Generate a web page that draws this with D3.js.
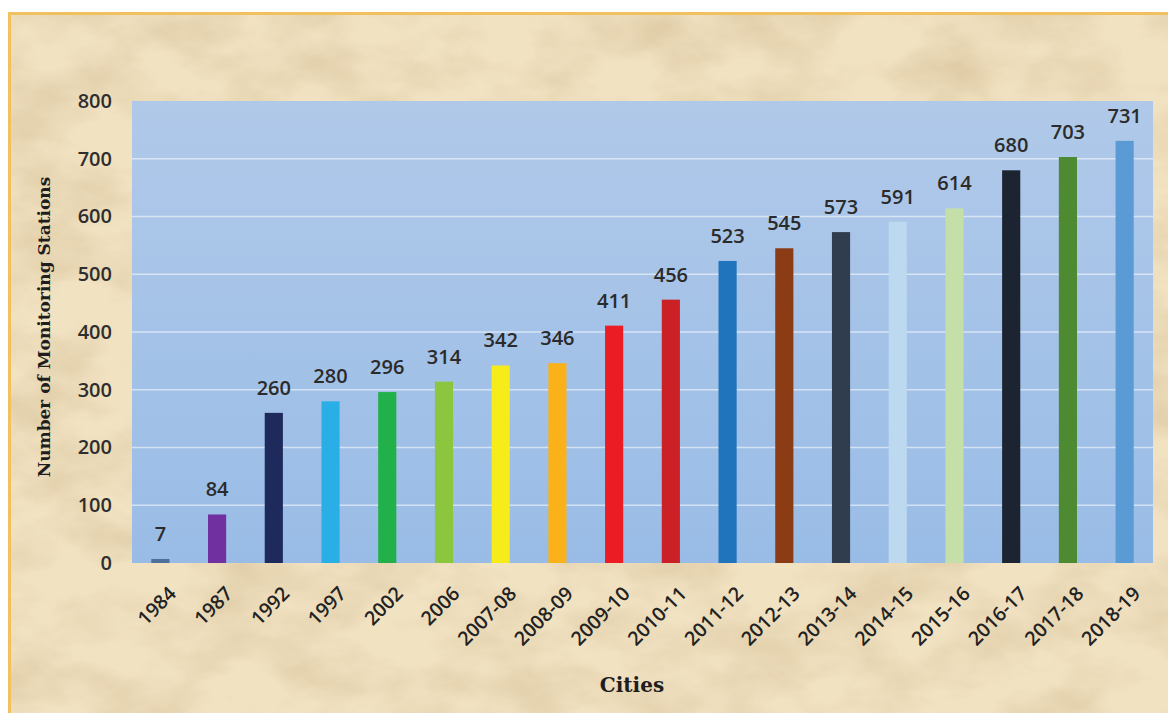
<!DOCTYPE html>
<html>
<head>
<meta charset="utf-8">
<script src="https://cdn.jsdelivr.net/npm/d3@7"></script>
<style>
  html, body { margin: 0; padding: 0; background: #fff; }
  svg { display: block; }
</style>
</head>
<body>
<svg id="chart" width="1168" height="713"></svg>
<script>
// data
const years = ['1984', '1987', '1992', '1997', '2002', '2006', '2007-08', '2008-09', '2009-10',
  '2010-11', '2011-12', '2012-13', '2013-14', '2014-15', '2015-16', '2016-17', '2017-18', '2018-19'];
const stations = [7, 84, 260, 280, 296, 314, 342, 346, 411, 456, 523, 545, 573, 591, 614, 680, 703, 731];
const barColors = ['#4f6f9c', '#7030a0', '#1f2a5c', '#29afe6', '#22b04b', '#8cc63f', '#f5ec1a', '#fbb21a',
  '#ec1c24', '#cc2027', '#1f74bb', '#8b3c15', '#303d4f', '#bcd9f0', '#c4e0a8', '#1c2431', '#4d8a32', '#5b9bd5'];
const yTicks = [0, 100, 200, 300, 400, 500, 600, 700, 800];

const W = 1168, H = 713;
const plot = { left: 132, top: 101, right: 1153, bottom: 563 };

const svg = d3.select('#chart');
const defs = svg.append('defs');

// parchment texture
const paper = defs.append('filter').attr('id', 'paper')
  .attr('x', 0).attr('y', 0).attr('width', '100%').attr('height', '100%');
paper.append('feTurbulence')
  .attr('type', 'fractalNoise')
  .attr('baseFrequency', '0.011 0.018')
  .attr('numOctaves', 5)
  .attr('seed', 7);
paper.append('feColorMatrix')
  .attr('type', 'matrix')
  .attr('values', '0 0 0 0 0.74  0 0 0 0 0.60  0 0 0 0 0.38  1.9 0 0 0 -0.72');

const grad = defs.append('linearGradient').attr('id', 'plotbg')
  .attr('x1', 0).attr('y1', 0).attr('x2', 0).attr('y2', 1);
grad.append('stop').attr('offset', '0%').attr('stop-color', '#b0c9e9');
grad.append('stop').attr('offset', '100%').attr('stop-color', '#99bce6');

// background
svg.append('rect').attr('width', W).attr('height', H).attr('fill', '#fff');
svg.append('rect').attr('x', 8).attr('y', 12).attr('width', W - 8).attr('height', H - 12)
  .attr('fill', '#f1e2c2');
svg.append('rect').attr('x', 8).attr('y', 12).attr('width', W - 8).attr('height', H - 12)
  .attr('filter', 'url(#paper)');
svg.append('path')
  .attr('d', `M9.5,${H} V13.5 H${W}`)
  .attr('fill', 'none').attr('stroke', '#f1c15f').attr('stroke-width', 3);

// scales
const x = d3.scaleBand()
  .domain(years)
  .range([plot.left, plot.right])
  .paddingInner(0.68)
  .paddingOuter(0.34);

const y = d3.scaleLinear()
  .domain([0, 800])
  .range([plot.bottom, plot.top]);

// plot area
svg.append('rect')
  .attr('x', plot.left).attr('y', plot.top)
  .attr('width', plot.right - plot.left).attr('height', plot.bottom - plot.top)
  .attr('fill', 'url(#plotbg)');

// gridlines
svg.append('g')
  .selectAll('line')
  .data(yTicks.filter(d => d > 0 && d < 800))
  .join('line')
  .attr('x1', plot.left).attr('x2', plot.right)
  .attr('y1', d => y(d)).attr('y2', d => y(d))
  .attr('stroke', '#ffffff').attr('stroke-opacity', 0.55).attr('stroke-width', 1.5);

// y axis labels
const yAxis = svg.append('g')
  .attr('transform', `translate(${plot.left},0)`)
  .call(d3.axisLeft(y).tickValues(yTicks).tickSize(0).tickPadding(20));
yAxis.select('.domain').remove();
yAxis.selectAll('text')
  .attr('font-family', '"Open Sans", sans-serif')
  .attr('font-size', 20)
  .attr('font-weight', 600)
  .attr('fill', '#2e2e2e');

// bars
svg.append('g')
  .selectAll('rect')
  .data(years)
  .join('rect')
  .attr('x', d => x(d))
  .attr('width', x.bandwidth())
  .attr('y', (d, i) => y(stations[i]))
  .attr('height', (d, i) => y(0) - y(stations[i]))
  .attr('fill', (d, i) => barColors[i]);

// value labels
svg.append('g')
  .selectAll('text')
  .data(years)
  .join('text')
  .attr('x', d => x(d) + x.bandwidth() / 2)
  .attr('y', (d, i) => y(stations[i]) - 18)
  .attr('text-anchor', 'middle')
  .attr('font-family', '"Open Sans", sans-serif')
  .attr('font-size', 20)
  .attr('font-weight', 600)
  .attr('fill', '#2b2b2b')
  .text((d, i) => stations[i]);

// x axis labels, rotated
svg.append('g')
  .selectAll('text')
  .data(years)
  .join('text')
  .attr('transform', d => `translate(${x(d) + x.bandwidth() / 2 + 7},${plot.bottom + 22}) rotate(-45)`)
  .attr('dy', '0.72em')
  .attr('text-anchor', 'end')
  .attr('font-family', '"Open Sans", sans-serif')
  .attr('font-size', 19.5)
  .attr('font-weight', 600)
  .attr('fill', '#222')
  .text(d => d);

// axis titles
svg.append('text')
  .attr('transform', `translate(50,${(plot.top + plot.bottom) / 2 - 5}) rotate(-90)`)
  .attr('text-anchor', 'middle')
  .attr('font-family', '"DejaVu Serif", serif')
  .attr('font-size', 17)
  .attr('font-weight', 'bold')
  .attr('fill', '#1e1e1e')
  .text('Number of Monitoring Stations');

svg.append('text')
  .attr('x', 632)
  .attr('y', 692)
  .attr('text-anchor', 'middle')
  .attr('font-family', '"DejaVu Serif", serif')
  .attr('font-size', 20)
  .attr('font-weight', 'bold')
  .attr('fill', '#1e1e1e')
  .text('Cities');
</script>
</body>
</html>
